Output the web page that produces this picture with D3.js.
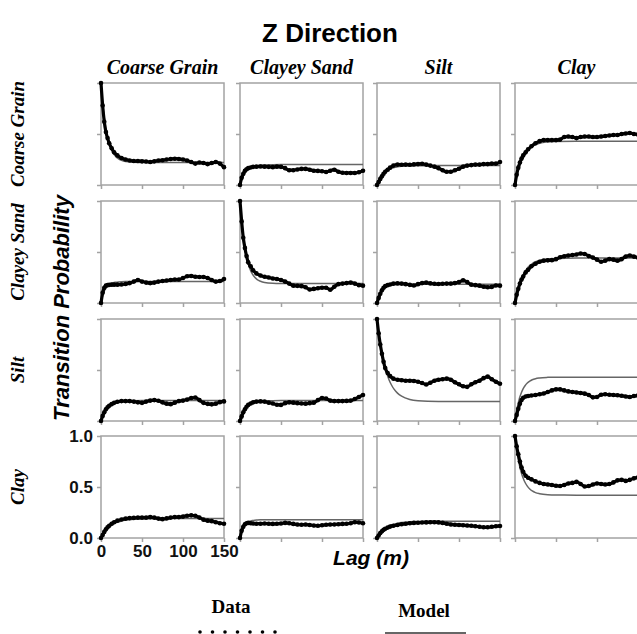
<!DOCTYPE html>
<html>
<head>
<meta charset="utf-8">
<script src="https://cdn.jsdelivr.net/npm/d3@7"></script>
<style>
  html, body { margin: 0; padding: 0; background: #ffffff; }
  svg { display: block; }
</style>
</head>
<body>
<div id="chart"></div>
<script>
// ---------------- DATA ----------------
const facies = ["Coarse Grain", "Clayey Sand", "Silt", "Clay"];
const titleText = "Z Direction";
const xTicks = [0, 50, 100, 150];
const xTickLabels = ["0", "50", "100", "150"];
const yTicks = [0, 0.5, 1.0];
const yTickLabels = ["0.0", "0.5", "1.0"];

// lags (m) of the measured transition probabilities
const dataLags = [0,2,4,6,8,10,13,16,20,25,30,35,40,45,50,55,60,65,70,75,80,85,90,95,100,105,110,115,120,125,130,135,140,145,150];
// lags (m) at which the model curve was read
const modelLags = [0,1,2,3,4,5,6,8,10,12,15,18,21,25,30,40,50,75,100,150];

// Row: Coarse Grain (from)
const dataCG_CG = [1.0,0.78,0.62,0.52,0.46,0.41,0.36,0.32,0.29,0.265,0.25,0.24,0.235,0.235,0.232,0.23,0.225,0.232,0.24,0.243,0.25,0.255,0.258,0.255,0.25,0.24,0.225,0.21,0.22,0.215,0.205,0.215,0.225,0.21,0.175];
const dataCG_CS = [0,0.07,0.11,0.14,0.155,0.165,0.172,0.178,0.18,0.182,0.18,0.178,0.175,0.18,0.178,0.165,0.145,0.145,0.152,0.158,0.158,0.15,0.14,0.138,0.135,0.128,0.14,0.15,0.13,0.12,0.118,0.118,0.118,0.125,0.14];
const dataCG_SI = [0,0.03,0.06,0.085,0.11,0.13,0.15,0.17,0.19,0.2,0.198,0.2,0.198,0.202,0.205,0.208,0.2,0.19,0.18,0.165,0.145,0.13,0.13,0.145,0.16,0.18,0.19,0.195,0.2,0.2,0.205,0.205,0.21,0.21,0.225];
const dataCG_CL = [0,0.1,0.17,0.22,0.26,0.29,0.32,0.35,0.38,0.41,0.43,0.44,0.44,0.44,0.44,0.445,0.47,0.475,0.47,0.46,0.47,0.475,0.475,0.47,0.47,0.475,0.48,0.485,0.49,0.49,0.5,0.505,0.51,0.5,0.495];
// Row: Clayey Sand (from)
const dataCS_CG = [0,0.1,0.15,0.17,0.175,0.178,0.18,0.18,0.18,0.182,0.186,0.195,0.21,0.225,0.21,0.2,0.195,0.2,0.21,0.215,0.22,0.225,0.23,0.23,0.245,0.262,0.265,0.258,0.255,0.255,0.245,0.225,0.21,0.215,0.235];
const dataCS_CS = [1.0,0.8,0.64,0.54,0.46,0.4,0.36,0.32,0.29,0.27,0.257,0.25,0.24,0.235,0.225,0.21,0.19,0.17,0.168,0.165,0.155,0.132,0.138,0.145,0.15,0.15,0.13,0.16,0.185,0.19,0.195,0.2,0.19,0.175,0.17];
const dataCS_SI = [0,0.05,0.09,0.125,0.15,0.165,0.175,0.182,0.19,0.192,0.19,0.185,0.178,0.172,0.185,0.195,0.2,0.192,0.188,0.186,0.188,0.19,0.19,0.195,0.205,0.222,0.205,0.18,0.175,0.17,0.16,0.155,0.158,0.172,0.17];
const dataCS_CL = [0,0.08,0.14,0.19,0.23,0.26,0.3,0.325,0.36,0.385,0.405,0.415,0.418,0.42,0.43,0.448,0.458,0.465,0.47,0.475,0.485,0.48,0.46,0.445,0.425,0.405,0.415,0.43,0.425,0.415,0.43,0.455,0.465,0.455,0.445];
// Row: Silt (from)
const dataSI_CG = [0,0.05,0.085,0.115,0.135,0.15,0.165,0.178,0.188,0.195,0.195,0.195,0.19,0.183,0.178,0.19,0.2,0.205,0.198,0.183,0.17,0.165,0.18,0.195,0.2,0.21,0.225,0.23,0.205,0.178,0.168,0.163,0.17,0.185,0.192];
const dataSI_CS = [0,0.045,0.085,0.115,0.14,0.158,0.172,0.183,0.19,0.192,0.19,0.18,0.172,0.16,0.158,0.175,0.183,0.18,0.175,0.172,0.17,0.175,0.18,0.205,0.225,0.22,0.2,0.195,0.195,0.195,0.197,0.2,0.215,0.235,0.255];
const dataSI_SI = [1.0,0.86,0.75,0.66,0.58,0.52,0.47,0.44,0.415,0.405,0.4,0.395,0.395,0.392,0.385,0.372,0.358,0.375,0.395,0.405,0.41,0.415,0.405,0.38,0.36,0.34,0.335,0.36,0.38,0.395,0.42,0.435,0.41,0.385,0.365];
const dataSI_CL = [0,0.06,0.12,0.17,0.205,0.228,0.24,0.245,0.25,0.255,0.262,0.27,0.285,0.3,0.31,0.31,0.3,0.29,0.285,0.28,0.275,0.268,0.255,0.232,0.235,0.258,0.262,0.258,0.255,0.252,0.248,0.24,0.235,0.245,0.25];
// Row: Clay (from)
const dataCL_CG = [0,0.03,0.06,0.085,0.105,0.12,0.14,0.155,0.17,0.182,0.19,0.195,0.197,0.2,0.2,0.2,0.205,0.2,0.19,0.185,0.192,0.2,0.205,0.205,0.21,0.218,0.222,0.218,0.2,0.18,0.17,0.165,0.155,0.145,0.14];
const dataCL_CS = [0,0.07,0.11,0.135,0.145,0.148,0.145,0.142,0.14,0.14,0.142,0.14,0.138,0.14,0.142,0.148,0.145,0.138,0.132,0.13,0.132,0.128,0.122,0.12,0.125,0.13,0.132,0.133,0.135,0.138,0.14,0.145,0.155,0.152,0.145];
const dataCL_SI = [0,0.025,0.048,0.065,0.08,0.09,0.102,0.112,0.12,0.128,0.135,0.14,0.145,0.148,0.15,0.152,0.153,0.155,0.155,0.153,0.148,0.14,0.133,0.13,0.128,0.125,0.122,0.12,0.115,0.11,0.105,0.105,0.11,0.115,0.118];
const dataCL_CL = [1.0,0.9,0.82,0.75,0.69,0.65,0.61,0.59,0.575,0.555,0.54,0.53,0.525,0.52,0.512,0.51,0.52,0.535,0.54,0.55,0.53,0.505,0.51,0.525,0.535,0.53,0.525,0.53,0.545,0.565,0.57,0.56,0.57,0.585,0.593];

// Model curves (read at modelLags)
const modelCG_CG = [1.0,0.896,0.806,0.728,0.66,0.602,0.551,0.469,0.407,0.36,0.311,0.28,0.259,0.242,0.231,0.224,0.221,0.22,0.22,0.22];
const modelCG_CS = [0,0.027,0.05,0.07,0.087,0.102,0.115,0.136,0.152,0.164,0.177,0.185,0.19,0.195,0.197,0.199,0.2,0.2,0.2,0.2];
const modelCG_SI = [0,0.02,0.038,0.054,0.068,0.081,0.092,0.112,0.128,0.14,0.155,0.164,0.172,0.178,0.183,0.188,0.189,0.19,0.19,0.19];
const modelCG_CL = [0,0.041,0.078,0.111,0.142,0.169,0.194,0.237,0.272,0.3,0.334,0.359,0.377,0.395,0.409,0.422,0.427,0.43,0.43,0.43];
const modelCS_CG = [0,0.038,0.07,0.095,0.115,0.133,0.147,0.168,0.182,0.191,0.2,0.204,0.207,0.209,0.21,0.21,0.21,0.21,0.21,0.21];
const modelCS_CS = [1.0,0.892,0.798,0.717,0.648,0.587,0.533,0.448,0.384,0.336,0.285,0.252,0.23,0.213,0.201,0.193,0.191,0.19,0.19,0.19];
const modelCS_SI = [0,0.028,0.052,0.073,0.09,0.104,0.117,0.136,0.15,0.16,0.17,0.176,0.18,0.182,0.184,0.185,0.185,0.185,0.185,0.185];
const modelCS_CL = [0,0.042,0.08,0.114,0.145,0.173,0.198,0.242,0.278,0.307,0.342,0.367,0.385,0.404,0.418,0.432,0.437,0.44,0.44,0.44];
const modelSI_CG = [0,0.024,0.044,0.063,0.079,0.093,0.106,0.126,0.143,0.155,0.169,0.179,0.186,0.191,0.195,0.199,0.2,0.2,0.2,0.2];
const modelSI_CS = [0,0.027,0.05,0.07,0.087,0.102,0.115,0.136,0.152,0.164,0.177,0.185,0.19,0.195,0.197,0.199,0.2,0.2,0.2,0.2];
const modelSI_SI = [1.0,0.93,0.866,0.806,0.753,0.704,0.66,0.581,0.516,0.462,0.397,0.348,0.31,0.273,0.243,0.211,0.199,0.191,0.19,0.19];
const modelSI_CL = [0,0.054,0.1,0.142,0.178,0.209,0.237,0.282,0.317,0.343,0.372,0.391,0.404,0.415,0.422,0.428,0.43,0.43,0.43,0.43];
const modelCL_CG = [0,0.015,0.029,0.042,0.054,0.064,0.075,0.093,0.108,0.12,0.136,0.148,0.157,0.167,0.174,0.183,0.187,0.19,0.19,0.19];
const modelCL_CS = [0,0.033,0.059,0.081,0.099,0.114,0.126,0.144,0.156,0.164,0.171,0.175,0.177,0.179,0.18,0.18,0.18,0.18,0.18,0.18];
const modelCL_SI = [0,0.013,0.025,0.037,0.047,0.056,0.065,0.08,0.093,0.104,0.118,0.128,0.136,0.144,0.151,0.159,0.162,0.165,0.165,0.165];
const modelCL_CL = [1.0,0.932,0.872,0.818,0.772,0.73,0.694,0.633,0.586,0.549,0.509,0.481,0.462,0.445,0.434,0.424,0.421,0.42,0.42,0.42];

const dataGrid = [
  [dataCG_CG, dataCG_CS, dataCG_SI, dataCG_CL],
  [dataCS_CG, dataCS_CS, dataCS_SI, dataCS_CL],
  [dataSI_CG, dataSI_CS, dataSI_SI, dataSI_CL],
  [dataCL_CG, dataCL_CS, dataCL_SI, dataCL_CL]
];
const modelGrid = [
  [modelCG_CG, modelCG_CS, modelCG_SI, modelCG_CL],
  [modelCS_CG, modelCS_CS, modelCS_SI, modelCS_CL],
  [modelSI_CG, modelSI_CS, modelSI_SI, modelSI_CL],
  [modelCL_CG, modelCL_CS, modelCL_SI, modelCL_CL]
];

// ---------------- LAYOUT ----------------
const W = 637, H = 634;
const panelW = 123, panelH = 102;
const colLeft = [101, 240, 377, 515];
const rowTop = [83, 201, 319, 436];
const frameColor = "#a3a3a3";
const serif = "'Liberation Serif', 'Times New Roman', serif";
const sans = "'Liberation Sans', Arial, Helvetica, sans-serif";

const svg = d3.select("#chart").append("svg")
  .attr("width", W).attr("height", H)
  .attr("viewBox", `0 0 ${W} ${H}`);

const x = d3.scaleLinear().domain([0, 150]).range([0, panelW]);
const y = d3.scaleLinear().domain([0, 1]).range([panelH, 0]);

const modelLine = d3.line().x(d => x(d[0])).y(d => y(d[1])).curve(d3.curveMonotoneX);
const dataLine = d3.line().x(d => x(d[0])).y(d => y(d[1])).curve(d3.curveMonotoneX);

// Title
svg.append("text")
  .attr("x", 330).attr("y", 42)
  .attr("text-anchor", "middle")
  .style("font-family", sans).style("font-weight", "bold")
  .style("font-size", "26px")
  .text(titleText);

// Column headers
facies.forEach((f, c) => {
  svg.append("text")
    .attr("x", colLeft[c] + panelW / 2).attr("y", 74)
    .attr("text-anchor", "middle")
    .style("font-family", serif).style("font-weight", "bold").style("font-style", "italic")
    .style("font-size", "20px")
    .text(f);
});

// Row labels
facies.forEach((f, r) => {
  svg.append("text")
    .attr("transform", `translate(24, ${rowTop[r] + panelH / 2}) rotate(-90)`)
    .attr("text-anchor", "middle")
    .style("font-family", serif).style("font-weight", "bold").style("font-style", "italic")
    .style("font-size", "19px")
    .text(f);
});

// Panels
for (let r = 0; r < 4; r++) {
  for (let c = 0; c < 4; c++) {
    const g = svg.append("g").attr("transform", `translate(${colLeft[c]}, ${rowTop[r]})`);
    const isCorner = (r === 3 && c === 0);

    // axes (ticks only)
    const ax = g.append("g").attr("transform", `translate(0, ${panelH})`)
      .call(d3.axisBottom(x).tickValues(xTicks).tickSize(4).tickPadding(3)
        .tickFormat((d, i) => isCorner ? xTickLabels[i] : ""));
    const ay = g.append("g")
      .call(d3.axisLeft(y).tickValues(yTicks).tickSize(4).tickPadding(4)
        .tickFormat((d, i) => isCorner ? yTickLabels[i] : ""));
    [ax, ay].forEach(a => {
      a.select(".domain").remove();
      a.selectAll(".tick line").attr("stroke", frameColor).attr("stroke-width", 1.5);
      a.selectAll(".tick text")
        .attr("fill", "#111")
        .style("font-family", sans).style("font-weight", "bold").style("font-size", "17px");
    });

    // frame
    g.append("rect")
      .attr("x", 0).attr("y", 0).attr("width", panelW).attr("height", panelH)
      .attr("fill", "none").attr("stroke", frameColor).attr("stroke-width", 1.5);

    // model curve
    const mPts = modelLags.map((l, i) => [l, modelGrid[r][c][i]]);
    g.append("path").attr("d", modelLine(mPts))
      .attr("fill", "none").attr("stroke", "#666").attr("stroke-width", 1.5);

    // data curve + markers
    const dPts = dataLags.map((l, i) => [l, dataGrid[r][c][i]]);
    g.append("path").attr("d", dataLine(dPts))
      .attr("fill", "none").attr("stroke", "#000").attr("stroke-width", 3.2)
      .attr("stroke-linejoin", "round");
    g.selectAll("circle.pt").data(dPts).enter().append("circle")
      .attr("class", "pt")
      .attr("cx", d => x(d[0])).attr("cy", d => y(d[1]))
      .attr("r", 2.3).attr("fill", "#000");
  }
}

// Axis titles
svg.append("text")
  .attr("transform", `translate(69, 308) rotate(-90)`)
  .attr("text-anchor", "middle")
  .style("font-family", sans).style("font-weight", "bold").style("font-style", "italic")
  .style("font-size", "22px")
  .text("Transition Probability");

svg.append("text")
  .attr("x", 371).attr("y", 565)
  .attr("text-anchor", "middle")
  .style("font-family", sans).style("font-weight", "bold").style("font-style", "italic")
  .style("font-size", "21px")
  .text("Lag (m)");

// Legend
svg.append("text")
  .attr("x", 231).attr("y", 613)
  .attr("text-anchor", "middle")
  .style("font-family", serif).style("font-weight", "bold")
  .style("font-size", "19px")
  .text("Data");
const legendDots = [0, 1, 2, 3, 4, 5, 6];
svg.selectAll("circle.leg").data(legendDots).enter().append("circle")
  .attr("class", "leg")
  .attr("cx", d => 200 + d * 12.5).attr("cy", 632)
  .attr("r", 1.8).attr("fill", "#000");

svg.append("text")
  .attr("x", 424).attr("y", 617)
  .attr("text-anchor", "middle")
  .style("font-family", serif).style("font-weight", "bold")
  .style("font-size", "19px")
  .text("Model");
svg.append("line")
  .attr("x1", 385).attr("x2", 466).attr("y1", 633).attr("y2", 633)
  .attr("stroke", "#666").attr("stroke-width", 2);
</script>
</body>
</html>
